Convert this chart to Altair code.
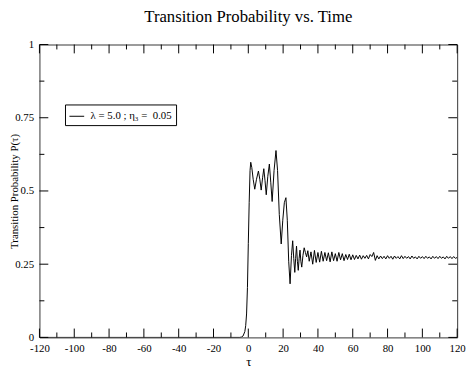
import altair as alt
import pandas as pd

# ---- data ----
tau = [-120, -5, -4, -3, -2, -1.5, -1, -0.5, 0, 0.5, 1.0, 1.4, 2.0, 2.8, 3.7, 4.7,
       5.8, 6.6, 7.4, 8.2, 8.9, 9.6, 10.3, 11.2, 12.1, 12.9, 13.7, 14.8, 15.9, 16.8,
       17.8, 18.9, 19.8, 20.7, 21.6, 22.4, 23.2, 24.0, 24.8, 25.5, 26.1, 26.7, 27.2,
       27.7, 28.2, 28.7, 29.2, 29.7, 30.2, 30.7, 31.4, 32.1, 32.8, 33.5, 34.2, 35.0,
       36, 37, 38, 39, 40, 41, 42, 43, 44, 45, 46, 47, 48, 49, 50, 51, 52, 53, 54, 55,
       56, 57, 58, 59, 60, 61, 62, 63, 64, 65, 66, 67, 68, 69, 70, 71, 72, 73, 74, 75,
       76, 77, 78, 79, 80, 81, 82, 83, 84, 85, 86, 87, 88, 89, 90, 91, 92, 93, 94, 95,
       96, 97, 98, 99, 100, 101, 102, 103, 104, 105, 106, 107, 108, 109, 110, 111, 112,
       113, 114, 115, 116, 117, 118, 119, 120]
prob = [0, 0, 0.001, 0.005, 0.02, 0.04, 0.08, 0.17, 0.32, 0.46, 0.57, 0.598, 0.58, 0.54,
        0.506, 0.54, 0.568, 0.54, 0.503, 0.545, 0.576, 0.535, 0.487, 0.55, 0.592, 0.53,
        0.464, 0.57, 0.638, 0.57, 0.42, 0.319, 0.40, 0.46, 0.477, 0.40, 0.26, 0.183, 0.28,
        0.33, 0.27, 0.222, 0.27, 0.312, 0.26, 0.229, 0.27, 0.298, 0.26, 0.24, 0.28, 0.306,
        0.29, 0.275, 0.296, 0.26,
        0.292, 0.25, 0.297, 0.256, 0.29, 0.257, 0.294, 0.26, 0.29, 0.262, 0.289, 0.258,
        0.292, 0.262, 0.286, 0.26, 0.29, 0.265, 0.286, 0.262, 0.283, 0.266, 0.284, 0.265,
        0.282, 0.266, 0.28, 0.268, 0.281, 0.267, 0.279, 0.27, 0.28, 0.268, 0.283, 0.276,
        0.29, 0.263, 0.279, 0.268, 0.278, 0.269, 0.277, 0.268, 0.279, 0.27, 0.277, 0.267,
        0.278, 0.27, 0.276, 0.268, 0.279, 0.269, 0.277, 0.27, 0.276, 0.268, 0.278, 0.27,
        0.275, 0.268, 0.277, 0.27, 0.276, 0.269, 0.277, 0.27, 0.275, 0.268, 0.277, 0.27,
        0.276, 0.269, 0.277, 0.27, 0.275, 0.268, 0.277, 0.27, 0.276, 0.269, 0.276, 0.27,
        0.273]
series_label = "λ = 5.0 ; η₃ =\u00a0 0.05"

x_major = [-120, -100, -80, -60, -40, -20, 0, 20, 40, 60, 80, 100, 120]
x_minor = [-110, -90, -70, -50, -30, -10, 10, 30, 50, 70, 90, 110]
y_major = [0, 0.25, 0.5, 0.75, 1]
y_minor = [0.125, 0.375, 0.625, 0.875]

W, H = 425, 298
FONT = "Liberation Serif"
MAJ, MIN = 9, 5

df = pd.DataFrame({"tau": tau, "P": prob, "series": series_label})

xs = alt.Scale(domain=[-120, 120], nice=False, zero=False)
ys = alt.Scale(domain=[0, 1], nice=False)

x_axis = alt.Axis(values=x_major, labelExpr="'' + datum.value", grid=False,
                  domain=False, ticks=False, tickSize=0, labelPadding=5,
                  labelOverlap=False, labelFlush=False,
                  labelFont=FONT, labelFontSize=11, labelColor="black",
                  titleFont=FONT, titleFontSize=13, titleFontWeight="normal",
                  titleColor="black", titlePadding=3)
y_axis = alt.Axis(values=y_major, labelExpr="'' + datum.value", grid=False,
                  domain=False, ticks=False, tickSize=0, labelPadding=6,
                  labelOverlap=False, labelFlush=False,
                  labelFont=FONT, labelFontSize=11, labelColor="black",
                  titleFont=FONT, titleFontSize=11, titleFontWeight="normal",
                  titleColor="black", titleX=-25, titleY=149,
                  titleBaseline="middle", titleAngle=270)
X_TITLE = "τ"
Y_TITLE = "Transition Probability  P(τ)"

line = alt.Chart(df).mark_line(strokeWidth=1, clip=True).encode(
    x=alt.X("tau:Q", scale=xs, title=X_TITLE, axis=x_axis),
    y=alt.Y("P:Q", scale=ys, title=Y_TITLE, axis=y_axis),
    color=alt.Color("series:N", scale=alt.Scale(range=["black"]),
                    legend=alt.Legend(title=None, orient="none", legendX=26, legendY=61,
                                      strokeColor="black", fillColor="white", padding=4,
                                      symbolType="stroke", symbolSize=225,
                                      symbolStrokeWidth=1, labelOffset=6,
                                      labelFont=FONT, labelFontSize=11,
                                      labelColor="black")),
)

xmaj = pd.DataFrame({"v": x_major})
xmin = pd.DataFrame({"v": x_minor})
ymaj = pd.DataFrame({"v": y_major})
ymin = pd.DataFrame({"v": y_minor})


def xticks(d, length):
    enc_x = alt.X("v:Q", scale=xs, title=X_TITLE, axis=x_axis)
    bot = alt.Chart(d).mark_rule(color="black", strokeWidth=1).encode(
        x=enc_x, y=alt.value(H), y2=alt.value(H - length))
    top = alt.Chart(d).mark_rule(color="black", strokeWidth=1).encode(
        x=enc_x, y=alt.value(0), y2=alt.value(length))
    return [bot, top]


def yticks(d, length):
    enc_y = alt.Y("v:Q", scale=ys, title=Y_TITLE, axis=y_axis)
    left = alt.Chart(d).mark_rule(color="black", strokeWidth=1).encode(
        y=enc_y, x=alt.value(0), x2=alt.value(length))
    right = alt.Chart(d).mark_rule(color="black", strokeWidth=1).encode(
        y=enc_y, x=alt.value(W), x2=alt.value(W - length))
    return [left, right]


layers = [line] + xticks(xmaj, MAJ) + xticks(xmin, MIN) + yticks(ymaj, MAJ) + yticks(ymin, MIN)

chart = alt.layer(*layers).properties(
    width=W, height=H,
    title=alt.TitleParams("Transition Probability vs. Time", font=FONT, fontSize=17,
                          fontWeight="normal", color="black", anchor="middle",
                          offset=13),
    autosize=alt.AutoSizeParams(type="none"),
    padding={"left": 32, "top": 34, "right": 10, "bottom": 30},
).configure(background="white", font=FONT).configure_view(stroke="#333", strokeWidth=1)

chart.save("out.html", embed_options={"renderer": "svg", "actions": False})
